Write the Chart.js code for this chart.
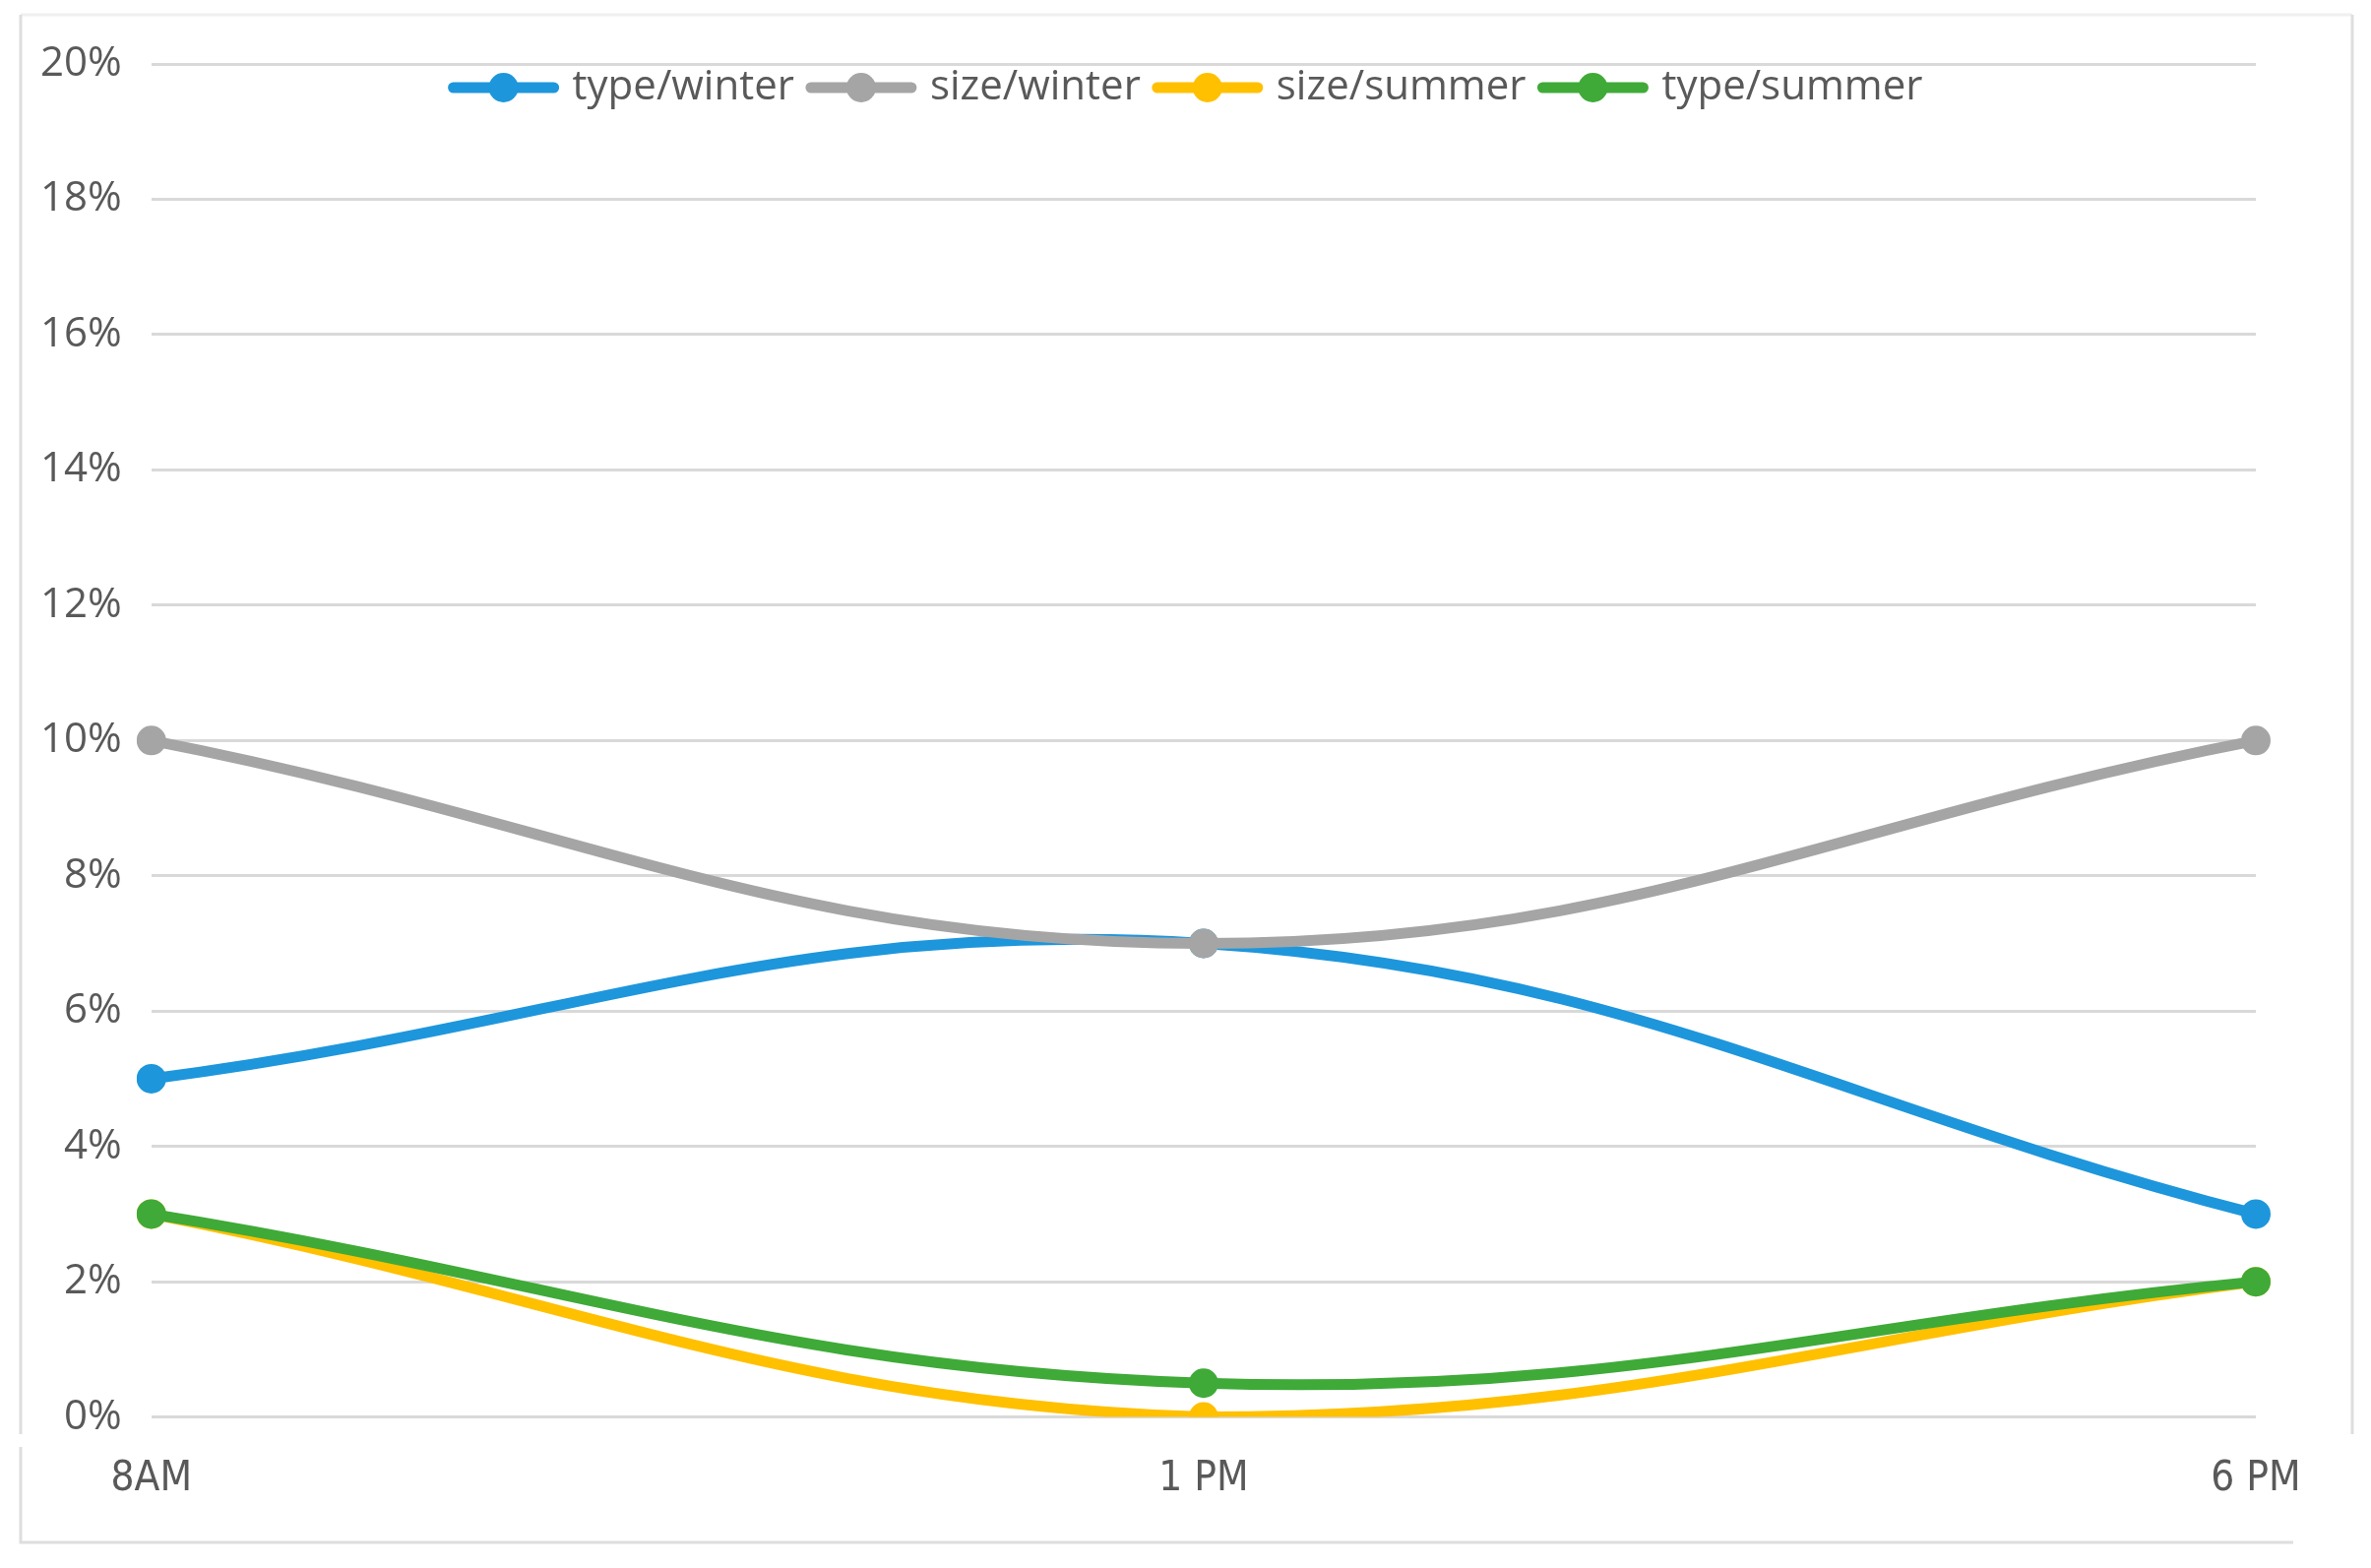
<!DOCTYPE html>
<html>
<head>
<meta charset="utf-8">
<script src="https://cdn.jsdelivr.net/npm/chart.js@4"></script>
<style>
    html, body { margin: 0; padding: 0; background: #fff; }
    #marco { width: 2409px; height: 1593px; position: relative; }
</style>
</head>
<body>
<div id="marco"><canvas id="grafico"></canvas></div>
<script>
// datos (en %)
var horas = ['8AM', '1 PM', '6 PM'];
var typeWinter = [5, 7, 3];
var sizeWinter = [10, 7, 10];
var sizeSummer = [3, 0, 2];
var typeSummer = [3, 0.5, 2];
var series = ['type/winter', 'size/winter', 'size/summer', 'type/summer'];
var colores = ['#1E96DC', '#A5A5A5', '#FFC000', '#3FAA38'];

var gris = '#595959';

// marco gris alrededor del grafico
var marco = {
    id: 'marco',
    beforeDraw: function (chart) {
        var ctx = chart.ctx;
        ctx.save();
        ctx.fillStyle = '#fff';
        ctx.fillRect(0, 0, chart.width, chart.height);
        ctx.lineWidth = 3;
        ctx.strokeStyle = '#f0f0f0';
        ctx.beginPath();
        ctx.moveTo(21, 15); ctx.lineTo(2390, 15);
        ctx.stroke();
        ctx.strokeStyle = '#dedede';
        ctx.beginPath();
        ctx.moveTo(21, 15); ctx.lineTo(21, 1457);
        ctx.moveTo(2390, 15); ctx.lineTo(2390, 1457);
        ctx.moveTo(21, 1470); ctx.lineTo(21, 1567); ctx.lineTo(2330, 1567);
        ctx.stroke();
        ctx.restore();
    }
};

// leyenda dentro del area del grafico
var leyenda = {
    id: 'leyenda',
    afterDatasetsDraw: function (chart) {
        var ctx = chart.ctx;
        var area = chart.chartArea;
        var largo = 112, hueco = 14, sep = 12;
        ctx.save();
        ctx.font = '42px "Open Sans"';
        var items = chart.data.datasets.map(function (d) {
            return { texto: d.label, color: d.borderColor, ancho: ctx.measureText(d.label).width };
        });
        var total = 0;
        items.forEach(function (it) { total += largo + hueco + it.ancho; });
        total += sep * (items.length - 1);
        var x = chart.width / 2 - total / 2;
        var y = area.top + 24;
        items.forEach(function (it) {
            ctx.strokeStyle = it.color;
            ctx.fillStyle = it.color;
            ctx.lineWidth = 11;
            ctx.lineCap = 'round';
            ctx.beginPath();
            ctx.moveTo(x + 5, y);
            ctx.lineTo(x + largo - 5, y);
            ctx.stroke();
            ctx.beginPath();
            ctx.arc(x + largo / 2, y, 15, 0, Math.PI * 2);
            ctx.fill();
            ctx.fillStyle = gris;
            ctx.textBaseline = 'middle';
            ctx.fillText(it.texto, x + largo + hueco, y);
            x += largo + hueco + it.ancho + sep;
        });
        ctx.restore();
    }
};

function serie(i, valores) {
    return {
        label: series[i],
        data: valores,
        borderColor: colores[i],
        backgroundColor: colores[i],
        borderWidth: 11,
        pointRadius: 15,
        pointHoverRadius: 15,
        pointBorderWidth: 0,
        tension: 0.4,
        order: 4 - i
    };
}

var ctx = document.getElementById('grafico').getContext('2d');
var grafico = new Chart(ctx, {
    type: 'line',
    data: {
        labels: horas,
        datasets: [
            serie(0, typeWinter),
            serie(1, sizeWinter),
            serie(2, sizeSummer),
            serie(3, typeSummer)
        ]
    },
    options: {
        responsive: true,
        maintainAspectRatio: false,
        animation: false,
        layout: {
            padding: { left: 11, right: 117, top: 65, bottom: 35 }
        },
        plugins: {
            legend: { display: false },
            tooltip: { enabled: false }
        },
        scales: {
            x: {
                grid: { display: false },
                border: { display: false },
                ticks: {
                    color: gris,
                    padding: 30,
                    maxRotation: 0,
                    font: { family: '"Liberation Sans Narrow", "DejaVu Sans Condensed", sans-serif', size: 42 }
                }
            },
            y: {
                min: 0,
                max: 20,
                border: { display: false },
                grid: { color: '#d9d9d9', lineWidth: 3, drawTicks: false },
                ticks: {
                    stepSize: 2,
                    color: gris,
                    padding: 30,
                    font: { family: '"Open Sans"', size: 42 },
                    callback: function (v) { return v + '%'; }
                }
            }
        }
    },
    plugins: [marco, leyenda]
});
</script>
</body>
</html>
